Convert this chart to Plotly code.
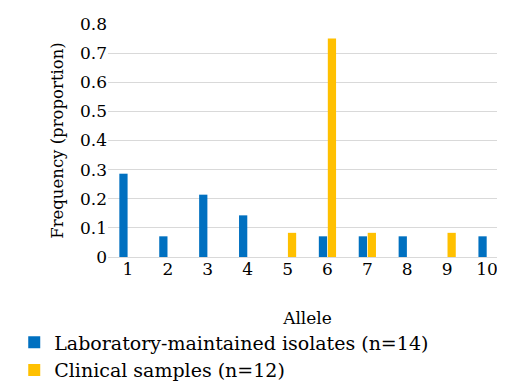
import plotly.graph_objects as go

alleles = ["1", "2", "3", "4", "5", "6", "7", "8", "9", "10"]
lab_freq = [0.286, 0.071, 0.214, 0.143, 0, 0.071, 0.071, 0.071, 0, 0.071]
clin_freq = [0, 0, 0, 0, 0.083, 0.75, 0.083, 0, 0.083, 0]
y_ticks = [0, 0.1, 0.2, 0.3, 0.4, 0.5, 0.6, 0.7, 0.8]

font_family = "DejaVu Serif"

fig = go.Figure()
fig.add_trace(go.Bar(x=alleles, y=lab_freq, name="Laboratory-maintained isolates (n=14)",
                     marker=dict(color="#0070C0", line=dict(width=0))))
fig.add_trace(go.Bar(x=alleles, y=clin_freq, name="Clinical samples (n=12)",
                     marker=dict(color="#FFC000", line=dict(width=0))))

fig.update_layout(
    width=505, height=387,
    margin=dict(l=99, r=6, t=16, b=129),
    paper_bgcolor="white", plot_bgcolor="white",
    font=dict(family=font_family, size=17, color="black"),
    barmode="group", bargap=0.55, bargroupgap=0.08,
    showlegend=True,
    legend=dict(orientation="v", x=-0.235, y=-0.285, xanchor="left", yanchor="top",
                font=dict(family=font_family, size=19), tracegroupgap=0, itemwidth=30),
)
fig.update_xaxes(title=dict(text="Allele", font=dict(family=font_family, size=17), standoff=34),
                 showgrid=False, showline=False, ticks="", tickfont=dict(family=font_family, size=17))
fig.update_yaxes(title=dict(text="Frequency (proportion)", font=dict(family=font_family, size=16.5), standoff=12),
                 range=[0, 0.8], tickvals=y_ticks, ticktext=["0", "0.1", "0.2", "0.3", "0.4", "0.5", "0.6", "0.7", "0.8"],
                 showgrid=True, gridcolor="#d9d9d9", gridwidth=1, zeroline=True,
                 zerolinecolor="#d9d9d9", zerolinewidth=1, tickfont=dict(family=font_family, size=17),
                 ticks="", showline=False)

fig.write_html("out.html")
